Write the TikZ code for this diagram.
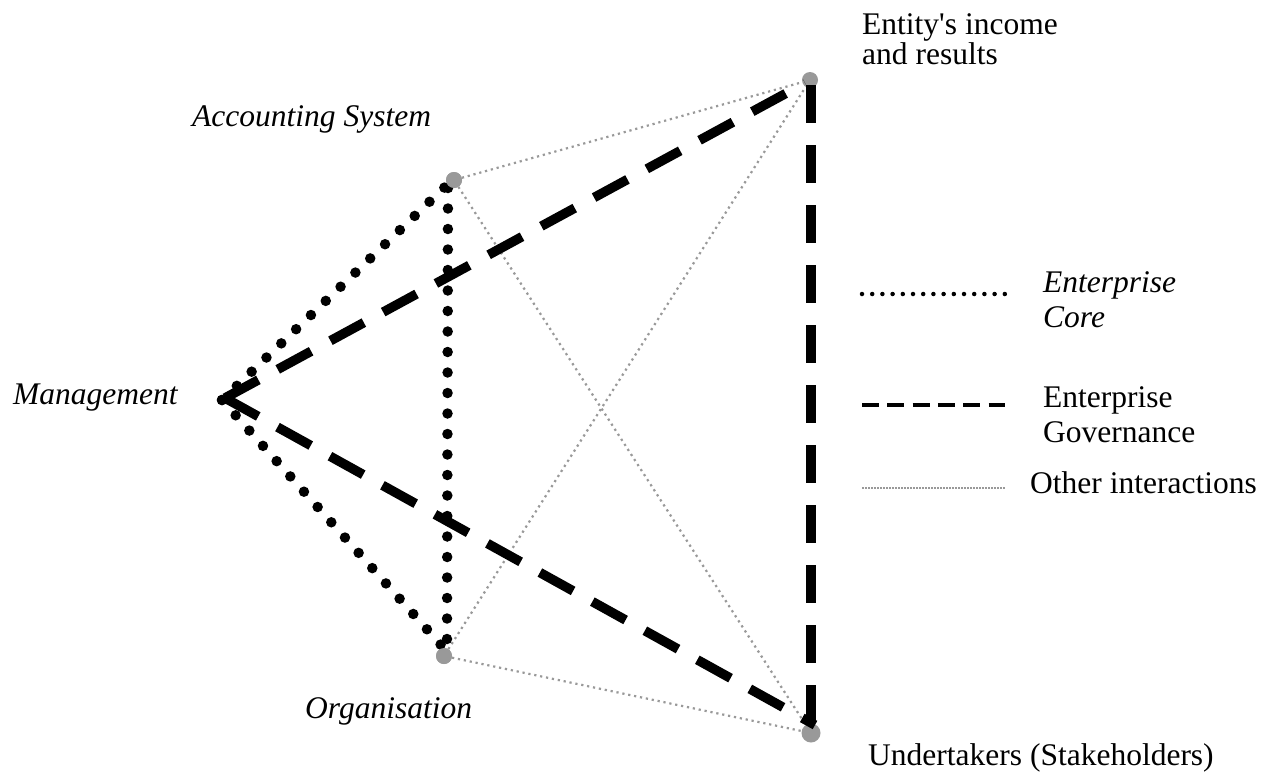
\documentclass[tikz,border=0pt]{standalone}
\usepackage{fontspec}
\setmainfont{Liberation Serif}
\definecolor{dotgray}{HTML}{999999}
\begin{document}
\begin{tikzpicture}[x=1pt,y=-1pt,
  lbl/.style={font=\fontsize{31.5}{35}\selectfont, inner sep=0pt, anchor=base west},
  ilbl/.style={lbl, font=\fontsize{31.5}{35}\selectfont\itshape},
  coreline/.style={line width=10.5pt, line cap=round, dash pattern=on 0pt off 20.5pt},
  govline/.style={line width=9.5pt, dash pattern=on 38pt off 22pt},
  otherline/.style={dotgray, line width=2.2pt, dash pattern=on 2.2pt off 3.8pt},
  legcore/.style={line width=4.5pt, line cap=round, dash pattern=on 0pt off 10.2pt},
  leggov/.style={line width=4.5pt, dash pattern=on 17pt off 8.3pt},
  legother/.style={dotgray, line width=1.6pt, dash pattern=on 1.6pt off 1.4pt},
  ptstyle/.style={circle, fill=dotgray, minimum size=16pt, inner sep=0pt}]
\useasboundingbox (0,0) rectangle (1261,772);
\fill[white] (0,0) rectangle (1261,772);

% points
\coordinate (m) at (222,400);
\coordinate (mg) at (225,398);
\node[ptstyle] (as) at (454,180) {};
\node[ptstyle] (org) at (444,656) {};
\node[ptstyle] (ent) at (810,80) {};
\node[ptstyle, minimum size=19pt] (und) at (811,733) {};
\coordinate (asb) at (446,186);
\coordinate (asv) at (448,188);
\coordinate (orgb) at (441,645);
\coordinate (orgv) at (447,640);
\coordinate (entb) at (805,83);
\coordinate (entv) at (811,85);
\coordinate (undb) at (815,725);
\coordinate (undv) at (811,725);

% other interactions
\draw[otherline] (as) -- (ent);
\draw[otherline] (as) -- (und);
\draw[otherline] (org) -- (ent);
\draw[otherline] (org) -- (und);

% enterprise core
\draw[coreline] (m) -- (asb);
\draw[coreline] (m) -- (orgb);
\draw[coreline] (asv) -- (orgv);

% enterprise governance
\draw[govline] (mg) -- (entb);
\draw[govline] (mg) -- (undb);
\draw[govline] (entv) -- (undv);

% dots on top
\fill[dotgray] (as) circle (8);
\fill[dotgray] (org) circle (8);

% labels
\node[lbl, anchor=north west, align=left, font=\fontsize{31.5}{28}\selectfont] (entl) at (862,13.5)
  {Entity\textquotesingle s income\\and results};
\node[ilbl] (asl) at (192,126) {Accounting System};
\node[ilbl] (ml) at (13,404) {Management};
\node[ilbl] (orgl) at (305,718) {Organisation};
\node[lbl] (undl) at (868,765) {Undertakers (Stakeholders)};

% legend
\coordinate (l1a) at (862,294);
\coordinate (l1b) at (1005,294);
\coordinate (l2a) at (862,405);
\coordinate (l2b) at (1005,405);
\coordinate (l3a) at (862,488);
\coordinate (l3b) at (1005,488);
\draw[legcore] (l1a) -- (l1b);
\draw[leggov] (l2a) -- (l2b);
\draw[legother] (l3a) -- (l3b);
\node[ilbl] (lg1a) at (1043,292) {Enterprise};
\node[ilbl] (lg1b) at (1043,327) {Core};
\node[lbl] (lg2a) at (1043,407) {Enterprise};
\node[lbl] (lg2b) at (1043,442) {Governance};
\node[lbl] (lg3) at (1030,493) {Other interactions};
\end{tikzpicture}
\end{document}
